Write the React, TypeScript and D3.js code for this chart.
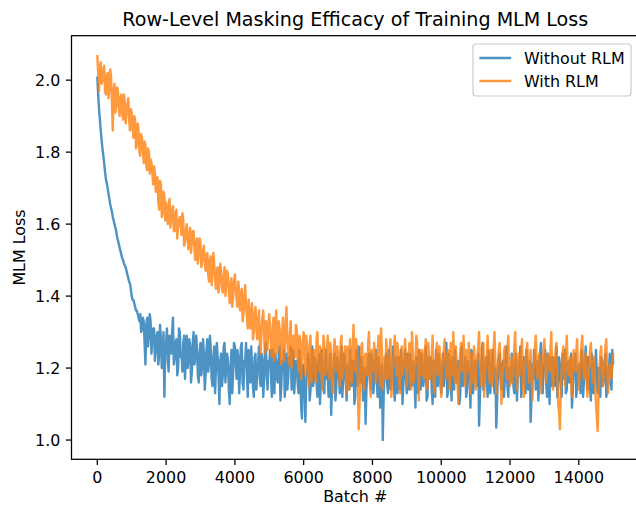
import React from "react";
import * as d3 from "d3";

// Loss recorded every 25 batches, 0..15000.
// "Even" arrays hold batches 0, 50, 100, ...; "Mid" arrays hold batches 25, 75, 125, ...
const STEP = 25;
const seriesNames = ["Without RLM", "With RLM"];
const seriesColors = ["#1f77b4", "#ff7f0e"];

const withoutRLMEven: number[] = [
  2.01, 1.92, 1.86, 1.81, 1.77, 1.725, 1.70, 1.67, 1.645, 1.62, 1.60, 1.58, 1.555, 1.535, 1.515, 1.50, 1.485, 1.47, 1.45, 1.435,
  1.40, 1.39, 1.37, 1.36, 1.34, 1.35, 1.31, 1.33, 1.21, 1.34, 1.29, 1.33, 1.28, 1.31, 1.25, 1.30, 1.24, 1.28, 1.22, 1.12,
  1.27, 1.22, 1.29, 1.24, 1.34, 1.23, 1.28, 1.20, 1.30, 1.24, 1.27, 1.17, 1.29, 1.22, 1.26, 1.19, 1.30, 1.23, 1.25, 1.16,
  1.27, 1.21, 1.24, 1.18, 1.28, 1.22, 1.25, 1.15, 1.26, 1.20, 1.23, 1.10, 1.24, 1.18, 1.27, 1.21, 1.22, 1.10, 1.25, 1.19,
  1.26, 1.17, 1.23, 1.19, 1.27, 1.14, 1.22, 1.18, 1.25, 1.16, 1.21, 1.12, 1.24, 1.19, 1.26, 1.15, 1.22, 1.17, 1.27, 1.14,
  1.21, 1.18, 1.25, 1.13, 1.22, 1.16, 1.26, 1.15, 1.20, 1.12, 1.24, 1.17, 1.21, 1.14, 1.25, 1.18, 1.22, 1.13, 1.19, 1.06,
  1.20, 1.05, 1.18, 1.22, 1.14, 1.26, 1.17, 1.21, 1.12, 1.24, 1.16, 1.20, 1.13, 1.25, 1.18, 1.22, 1.07, 1.19, 1.24, 1.15,
  1.21, 1.13, 1.26, 1.17, 1.23, 1.11, 1.19, 1.25, 1.15, 1.22, 1.12, 1.20, 1.26, 1.16, 1.21, 1.13, 1.045, 1.19, 1.24, 1.14,
  1.22, 1.16, 1.25, 1.12, 1.20, 1.15, 1.00, 1.18, 1.24, 1.13, 1.21, 1.17, 1.26, 1.11, 1.19, 1.23, 1.14, 1.22, 1.16, 1.25,
  1.13, 1.20, 1.24, 1.15, 1.21, 1.09, 1.18, 1.25, 1.14, 1.22, 1.17, 1.26, 1.12, 1.20, 1.23, 1.10, 1.19, 1.25, 1.15, 1.21,
  1.13, 1.24, 1.18, 1.27, 1.14, 1.21, 1.11, 1.19, 1.25, 1.16, 1.22, 1.12, 1.26, 1.18, 1.23, 1.14, 1.20, 1.09, 1.24, 1.17,
  1.22, 1.15, 1.04, 1.20, 1.27, 1.16, 1.23, 1.12, 1.21, 1.18, 1.25, 1.13, 1.035, 1.19, 1.24, 1.14, 1.22, 1.17, 1.26, 1.12,
  1.20, 1.24, 1.15, 1.21, 1.11, 1.19, 1.26, 1.16, 1.23, 1.13, 1.20, 1.17, 1.05, 1.21, 1.25, 1.14, 1.22, 1.18, 1.27, 1.13,
  1.21, 1.16, 1.24, 1.10, 1.19, 1.23, 1.15, 1.26, 1.17, 1.21, 1.12, 1.20, 1.25, 1.14, 1.22, 1.18, 1.09, 1.20, 1.24, 1.15,
  1.21, 1.13, 1.23, 1.17, 1.26, 1.14, 1.20, 1.11, 1.22, 1.18, 1.25, 1.13, 1.19, 1.23, 1.15, 1.21, 1.12, 1.20, 1.24, 1.14, 1.21,
];

const withoutRLMMid: number[] = [
  1.96, 1.89, 1.835, 1.79, 1.745, 1.715, 1.685, 1.655, 1.635, 1.61, 1.59, 1.565, 1.545, 1.525, 1.505, 1.49, 1.48, 1.46, 1.44, 1.42,
  1.39, 1.38, 1.36, 1.35, 1.33, 1.30, 1.34, 1.27, 1.32, 1.26, 1.35, 1.24, 1.31, 1.22, 1.29, 1.21, 1.32, 1.20, 1.30, 1.25,
  1.31, 1.19, 1.26, 1.30, 1.21, 1.27, 1.18, 1.31, 1.23, 1.19, 1.29, 1.24, 1.20, 1.28, 1.16, 1.27, 1.21, 1.29, 1.18, 1.24,
  1.18, 1.28, 1.14, 1.25, 1.19, 1.29, 1.17, 1.23, 1.13, 1.27, 1.18, 1.22, 1.15, 1.26, 1.16, 1.24, 1.14, 1.20, 1.13, 1.27,
  1.21, 1.25, 1.13, 1.26, 1.16, 1.22, 1.27, 1.12, 1.20, 1.26, 1.15, 1.23, 1.14, 1.21, 1.17, 1.24, 1.12, 1.25, 1.18, 1.22,
  1.25, 1.12, 1.19, 1.24, 1.17, 1.23, 1.11, 1.22, 1.25, 1.17, 1.14, 1.23, 1.26, 1.19, 1.13, 1.22, 1.16, 1.25, 1.10, 1.21,
  1.13, 1.17, 1.24, 1.11, 1.20, 1.15, 1.23, 1.16, 1.21, 1.10, 1.25, 1.14, 1.22, 1.17, 1.12, 1.24, 1.15, 1.21, 1.11, 1.23,
  1.18, 1.22, 1.12, 1.24, 1.16, 1.21, 1.14, 1.18, 1.22, 1.10, 1.25, 1.15, 1.19, 1.23, 1.11, 1.20, 1.14, 1.22, 1.17, 1.24,
  1.13, 1.21, 1.17, 1.23, 1.09, 1.21, 1.12, 1.22, 1.16, 1.25, 1.14, 1.20, 1.15, 1.23, 1.13, 1.18, 1.25, 1.10, 1.21, 1.17,
  1.24, 1.14, 1.19, 1.22, 1.16, 1.23, 1.13, 1.20, 1.24, 1.15, 1.21, 1.11, 1.23, 1.17, 1.14, 1.22, 1.12, 1.20, 1.24, 1.16,
  1.20, 1.15, 1.22, 1.12, 1.24, 1.17, 1.23, 1.14, 1.21, 1.19, 1.10, 1.24, 1.15, 1.20, 1.12, 1.22, 1.17, 1.25, 1.13, 1.21,
  1.18, 1.24, 1.12, 1.22, 1.14, 1.20, 1.17, 1.25, 1.13, 1.22, 1.16, 1.20, 1.11, 1.23, 1.17, 1.21, 1.12, 1.24, 1.15, 1.20,
  1.16, 1.21, 1.13, 1.24, 1.17, 1.22, 1.12, 1.20, 1.16, 1.25, 1.14, 1.22, 1.12, 1.17, 1.23, 1.19, 1.11, 1.24, 1.16, 1.21,
  1.25, 1.12, 1.19, 1.23, 1.15, 1.21, 1.18, 1.12, 1.23, 1.15, 1.24, 1.17, 1.13, 1.21, 1.16, 1.24, 1.14, 1.22, 1.12, 1.19,
  1.17, 1.25, 1.12, 1.21, 1.18, 1.23, 1.15, 1.24, 1.13, 1.21, 1.16, 1.20, 1.12, 1.22, 1.17, 1.24, 1.14, 1.19, 1.16, 1.25,
];

const withRLMEven: number[] = [
  2.07, 1.97, 2.05, 2.00, 2.04, 1.96, 2.02, 1.98, 2.01, 1.86, 1.99, 1.93, 1.97, 1.90, 1.96, 1.89, 1.94, 1.91, 1.95, 1.86,
  1.91, 1.84, 1.89, 1.82, 1.86, 1.79, 1.84, 1.77, 1.82, 1.75, 1.80, 1.78, 1.74, 1.76, 1.69, 1.73, 1.64, 1.71, 1.63, 1.68,
  1.66, 1.60, 1.67, 1.62, 1.65, 1.58, 1.64, 1.60, 1.62, 1.57, 1.61, 1.55, 1.60, 1.53, 1.59, 1.55, 1.58, 1.50, 1.56, 1.52,
  1.55, 1.50, 1.54, 1.47, 1.52, 1.44, 1.51, 1.46, 1.49, 1.42, 1.48, 1.44, 1.47, 1.41, 1.48, 1.43, 1.46, 1.38, 1.45, 1.40,
  1.46, 1.39, 1.44, 1.36, 1.42, 1.35, 1.43, 1.34, 1.39, 1.31, 1.38, 1.30, 1.37, 1.28, 1.36, 1.24, 1.34, 1.29, 1.33, 1.25,
  1.35, 1.26, 1.32, 1.22, 1.36, 1.27, 1.31, 1.21, 1.34, 1.25, 1.37, 1.24, 1.30, 1.20, 1.29, 1.23, 1.31, 1.19, 1.28, 1.22,
  1.30, 1.18, 1.26, 1.15, 1.29, 1.21, 1.25, 1.16, 1.30, 1.19, 1.24, 1.14, 1.27, 1.20, 1.29, 1.17, 1.23, 1.13, 1.28, 1.19,
  1.24, 1.15, 1.29, 1.20, 1.26, 1.13, 1.22, 1.28, 1.16, 1.32, 1.19, 1.25, 1.03, 1.21, 1.27, 1.14, 1.24, 1.18, 1.30, 1.12,
  1.22, 1.27, 1.16, 1.24, 1.19, 1.31, 1.14, 1.23, 1.28, 1.17, 1.25, 1.12, 1.21, 1.29, 1.18, 1.24, 1.13, 1.26, 1.20, 1.28,
  1.15, 1.23, 1.18, 1.30, 1.16, 1.22, 1.27, 1.11, 1.21, 1.25, 1.17, 1.28, 1.14, 1.22, 1.19, 1.29, 1.13, 1.24, 1.18, 1.26,
  1.12, 1.22, 1.28, 1.17, 1.25, 1.14, 1.23, 1.30, 1.16, 1.21, 1.10, 1.24, 1.19, 1.29, 1.15, 1.22, 1.27, 1.13, 1.20, 1.26,
  1.14, 1.23, 1.30, 1.18, 1.24, 1.12, 1.21, 1.29, 1.16, 1.25, 1.19, 1.30, 1.13, 1.22, 1.27, 1.10, 1.20, 1.26, 1.17, 1.29,
  1.15, 1.23, 1.19, 1.30, 1.14, 1.24, 1.20, 1.28, 1.12, 1.22, 1.27, 1.16, 1.25, 1.11, 1.21, 1.29, 1.17, 1.24, 1.13, 1.22,
  1.28, 1.16, 1.24, 1.19, 1.30, 1.14, 1.22, 1.27, 1.10, 1.03, 1.20, 1.26, 1.15, 1.29, 1.18, 1.23, 1.12, 1.25, 1.19, 1.28,
  1.14, 1.22, 1.29, 1.17, 1.24, 1.12, 1.21, 1.27, 1.16, 1.23, 1.10, 1.025, 1.20, 1.26, 1.15, 1.22, 1.28, 1.13, 1.21, 1.17, 1.24,
];

const withRLMMid: number[] = [
  2.02, 2.04, 1.99, 2.03, 1.97, 2.01, 1.95, 2.03, 1.94, 1.97, 1.91, 1.98, 1.92, 1.95, 1.91, 1.96, 1.88, 1.93, 1.89, 1.92,
  1.87, 1.90, 1.81, 1.88, 1.80, 1.85, 1.81, 1.83, 1.76, 1.81, 1.74, 1.77, 1.71, 1.74, 1.70, 1.66, 1.72, 1.62, 1.69, 1.61,
  1.63, 1.65, 1.59, 1.64, 1.58, 1.63, 1.56, 1.61, 1.59, 1.63, 1.54, 1.58, 1.56, 1.57, 1.52, 1.58, 1.53, 1.55, 1.49, 1.56,
  1.48, 1.52, 1.49, 1.51, 1.46, 1.50, 1.43, 1.52, 1.45, 1.47, 1.41, 1.49, 1.42, 1.45, 1.40, 1.47, 1.41, 1.43, 1.37, 1.44,
  1.42, 1.37, 1.41, 1.39, 1.33, 1.40, 1.37, 1.31, 1.36, 1.34, 1.28, 1.35, 1.31, 1.33, 1.27, 1.31, 1.36, 1.24, 1.30, 1.33,
  1.30, 1.23, 1.34, 1.29, 1.24, 1.33, 1.25, 1.30, 1.22, 1.32, 1.28, 1.21, 1.33, 1.25, 1.27, 1.32, 1.22, 1.29, 1.17, 1.27,
  1.24, 1.29, 1.20, 1.27, 1.16, 1.25, 1.19, 1.28, 1.22, 1.26, 1.17, 1.29, 1.18, 1.24, 1.21, 1.27, 1.15, 1.25, 1.22, 1.26,
  1.20, 1.27, 1.17, 1.23, 1.19, 1.26, 1.14, 1.20, 1.25, 1.22, 1.28, 1.15, 1.10, 1.26, 1.18, 1.23, 1.20, 1.27, 1.16, 1.25,
  1.19, 1.23, 1.21, 1.29, 1.15, 1.25, 1.20, 1.17, 1.23, 1.20, 1.28, 1.17, 1.25, 1.22, 1.27, 1.16, 1.21, 1.18, 1.24, 1.21,
  1.20, 1.27, 1.14, 1.24, 1.20, 1.29, 1.16, 1.25, 1.18, 1.21, 1.24, 1.19, 1.27, 1.17, 1.24, 1.16, 1.20, 1.27, 1.22, 1.19,
  1.18, 1.25, 1.21, 1.23, 1.19, 1.27, 1.18, 1.23, 1.26, 1.15, 1.19, 1.27, 1.22, 1.18, 1.25, 1.19, 1.21, 1.24, 1.16, 1.23,
  1.20, 1.26, 1.21, 1.15, 1.27, 1.18, 1.24, 1.21, 1.22, 1.15, 1.26, 1.20, 1.17, 1.25, 1.19, 1.16, 1.24, 1.21, 1.25, 1.18,
  1.20, 1.16, 1.26, 1.21, 1.19, 1.18, 1.25, 1.16, 1.19, 1.25, 1.20, 1.22, 1.17, 1.18, 1.26, 1.21, 1.22, 1.18, 1.19, 1.25,
  1.21, 1.20, 1.22, 1.25, 1.18, 1.19, 1.25, 1.17, 1.08, 1.13, 1.24, 1.20, 1.23, 1.21, 1.20, 1.17, 1.20, 1.21, 1.24, 1.19,
  1.18, 1.26, 1.21, 1.20, 1.18, 1.17, 1.25, 1.21, 1.20, 1.15, 1.06, 1.13, 1.24, 1.19, 1.18, 1.26, 1.19, 1.17, 1.20, 1.21,
];

const xTicks = [0, 2000, 4000, 6000, 8000, 10000, 12000, 14000];
const yTicks = [1.0, 1.2, 1.4, 1.6, 1.8, 2.0];

const W = 636;
const H = 505;
const left = 71.5;
const right = 639;
const top = 35.7;
const bottom = 459.3;
const FONT = "'DejaVu Sans', sans-serif";

function interleave(even: number[], mid: number[]): number[] {
  const out: number[] = [];
  for (let i = 0; i < even.length; i++) {
    out.push(even[i]);
    if (i < mid.length && i < even.length - 1) out.push(mid[i]);
  }
  return out;
}

export default function App() {
  const series = [
    interleave(withoutRLMEven, withoutRLMMid),
    interleave(withRLMEven, withRLMMid),
  ];
  const n = series[0].length;
  const xMax = (n - 1) * STEP;
  const xPad = xMax * 0.05;
  const x = d3.scaleLinear().domain([-xPad, xMax + xPad]).range([left, right]);

  const all = series.flat();
  const yMin = d3.min(all) as number;
  const yMaxV = d3.max(all) as number;
  const yPad = (yMaxV - yMin) * 0.05;
  const y = d3.scaleLinear().domain([yMin - yPad, yMaxV + yPad]).range([bottom, top]);

  const line = d3
    .line<number>()
    .x((_, i) => x(i * STEP))
    .y((d) => y(d));

  const tickLen = 5.6;
  const cx = (left + right) / 2;

  const legX = 473;
  const legY = 44;
  const legW = 158;
  const legH = 52;
  const rowY = [58, 81];

  return (
    <svg
      width={W}
      height={H}
      style={{ position: "absolute", left: 0, top: 0, background: "#fff" }}
      fontFamily={FONT}
    >
      <rect x={0} y={0} width={W} height={H} fill="#fff" />
      <defs>
        <clipPath id="plotclip">
          <rect x={left} y={top} width={right - left} height={bottom - top} />
        </clipPath>
      </defs>

      <g clipPath="url(#plotclip)">
        {series.map((s, k) => (
          <path
            key={k}
            d={line(s) || ""}
            fill="none"
            stroke={seriesColors[k]}
            strokeOpacity={0.8}
            strokeWidth={2.4}
            strokeLinejoin="round"
          />
        ))}
      </g>

      {/* spines */}
      <rect
        x={left}
        y={top}
        width={right - left}
        height={bottom - top}
        fill="none"
        stroke="#000"
        strokeWidth={1.27}
      />

      {/* x ticks */}
      {xTicks.map((t) => (
        <g key={t}>
          <line x1={x(t)} x2={x(t)} y1={bottom} y2={bottom + tickLen} stroke="#000" strokeWidth={1.27} />
          <text x={x(t)} y={483.3} textAnchor="middle" fontSize={15.9} fill="#000">
            {t}
          </text>
        </g>
      ))}

      {/* y ticks */}
      {yTicks.map((t) => (
        <g key={t}>
          <line x1={left - tickLen} x2={left} y1={y(t)} y2={y(t)} stroke="#000" strokeWidth={1.27} />
          <text x={left - tickLen - 5.6} y={y(t) + 5.7} textAnchor="end" fontSize={15.9} fill="#000">
            {d3.format(".1f")(t)}
          </text>
        </g>
      ))}

      {/* title & labels */}
      <text x={cx} y={26.2} textAnchor="middle" fontSize={19.1} fill="#000">
        Row-Level Masking Efficacy of Training MLM Loss
      </text>
      <text x={cx} y={501.5} textAnchor="middle" fontSize={15.9} fill="#000">
        Batch #
      </text>
      <text
        transform={`translate(25.3, ${(top + bottom) / 2}) rotate(-90)`}
        textAnchor="middle"
        fontSize={15.9}
        fill="#000"
      >
        MLM Loss
      </text>

      {/* legend */}
      <rect
        x={legX}
        y={legY}
        width={legW}
        height={legH}
        rx={3}
        ry={3}
        fill="#fff"
        fillOpacity={0.8}
        stroke="#cccccc"
        strokeWidth={1.2}
      />
      {seriesNames.map((name, k) => (
        <g key={name}>
          <line
            x1={legX + 6.4}
            x2={legX + 6.4 + 31.8}
            y1={rowY[k]}
            y2={rowY[k]}
            stroke={seriesColors[k]}
            strokeOpacity={0.8}
            strokeWidth={2.4}
          />
          <text x={legX + 50.9} y={rowY[k] + 5.6} fontSize={15.9} fill="#000">
            {name}
          </text>
        </g>
      ))}
    </svg>
  );
}
